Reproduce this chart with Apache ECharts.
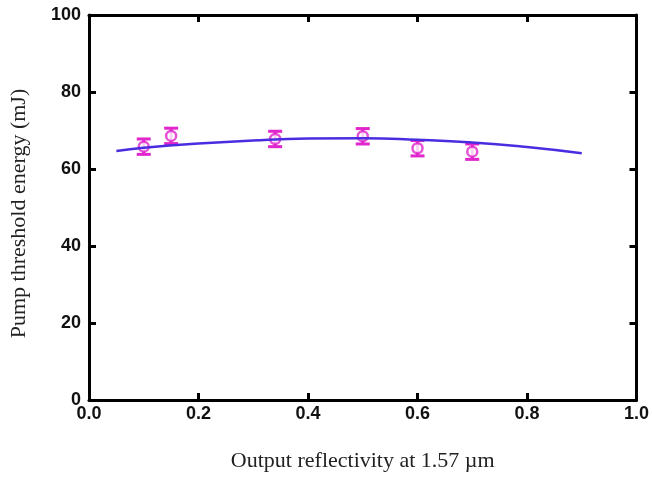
<!DOCTYPE html>
<html><head><meta charset="utf-8">
<script src="https://cdn.jsdelivr.net/npm/echarts@6/dist/echarts.min.js"></script>
<style>html,body{margin:0;padding:0;background:#fff}#c{width:652px;height:477px}</style>
</head><body><div id="c"></div>
<script>
// measured data
var reflectivity = [0.10, 0.15, 0.34, 0.50, 0.60, 0.70];
var threshold = [65.8, 68.6, 67.8, 68.5, 65.4, 64.5];
var errHalf = [2.0, 2.0, 2.0, 2.0, 2.0, 2.0];
// fitted curve
var fitX = [0.05, 0.10, 0.20, 0.30, 0.40, 0.50, 0.60, 0.70, 0.80, 0.90];
var fitY = [64.7, 65.5, 66.6, 67.4, 67.9, 68.0, 67.6, 66.9, 65.7, 64.1];
var xTicks = ['0.0','0.2','0.4','0.6','0.8','1.0'];
var yTicks = ['0','20','40','60','80','100'];

var MAG = '#e026cc', BLUE = '#4a2de0';
var chart = echarts.init(document.getElementById('c'));
var axisLine = {show:true, onZero:false, lineStyle:{color:'#000', width:3}};
var tickIn = {show:true, inside:true, length:7, lineStyle:{color:'#000', width:3}};
var tickFont = {fontFamily:'Liberation Sans, Arial', fontWeight:'bold', fontSize:18, color:'#111'};
chart.setOption({
  animation:false,
  grid:{left:87, right:15, top:15, bottom:77},
  xAxis:[{
    type:'value', min:0, max:1, interval:0.2, position:'bottom',
    axisLine:axisLine, axisTick:tickIn, splitLine:{show:false},
    axisLabel:Object.assign({margin:5, formatter:function(v){return xTicks[Math.round(v/0.2)];}}, tickFont),
    name:'Output reflectivity at 1.57 \u00b5m', nameLocation:'middle', nameGap:50,
    nameTextStyle:{fontFamily:'Liberation Serif, Times New Roman', fontSize:22, color:'#222'}
  },{
    type:'value', min:0, max:1, interval:0.2, position:'top',
    axisLine:axisLine, axisTick:tickIn, axisLabel:{show:false}, splitLine:{show:false}
  }],
  yAxis:[{
    type:'value', min:0, max:100, interval:20, position:'left',
    axisLine:axisLine, axisTick:tickIn, splitLine:{show:false},
    axisLabel:Object.assign({margin:8, formatter:function(v){return yTicks[Math.round(v/20)];}}, tickFont),
    name:'Pump threshold energy (mJ)', nameLocation:'middle', nameGap:59, nameRotate:90,
    nameTextStyle:{fontFamily:'Liberation Serif, Times New Roman', fontSize:22, color:'#222', padding:[0,12,0,0]}
  },{
    type:'value', min:0, max:100, interval:20, position:'right',
    axisLine:axisLine, axisTick:tickIn, axisLabel:{show:false}, splitLine:{show:false}
  }],
  series:[{
    type:'custom', z:2,
    data: reflectivity.map(function(x,i){return [x, threshold[i]-errHalf[i], threshold[i]+errHalf[i]];}),
    renderItem:function(params, api){
      var lo = api.coord([api.value(0), api.value(1)]);
      var hi = api.coord([api.value(0), api.value(2)]);
      var w = 7, st = {stroke:MAG, lineWidth:3};
      return {type:'group', children:[
        {type:'line', shape:{x1:lo[0],y1:lo[1],x2:hi[0],y2:hi[1]}, style:st},
        {type:'line', shape:{x1:lo[0]-w,y1:lo[1],x2:lo[0]+w,y2:lo[1]}, style:st},
        {type:'line', shape:{x1:hi[0]-w,y1:hi[1],x2:hi[0]+w,y2:hi[1]}, style:st}
      ]};
    }
  },{
    type:'scatter', z:3, symbol:'circle', symbolSize:10,
    itemStyle:{color:'#fff', borderColor:MAG, borderWidth:2.5},
    data: reflectivity.map(function(x,i){return [x, threshold[i]];})
  },{
    type:'line', z:4, smooth:true, showSymbol:false,
    lineStyle:{color:BLUE, width:2.5},
    data: fitX.map(function(x,i){return [x, fitY[i]];})
  }]
});
</script></body></html>
